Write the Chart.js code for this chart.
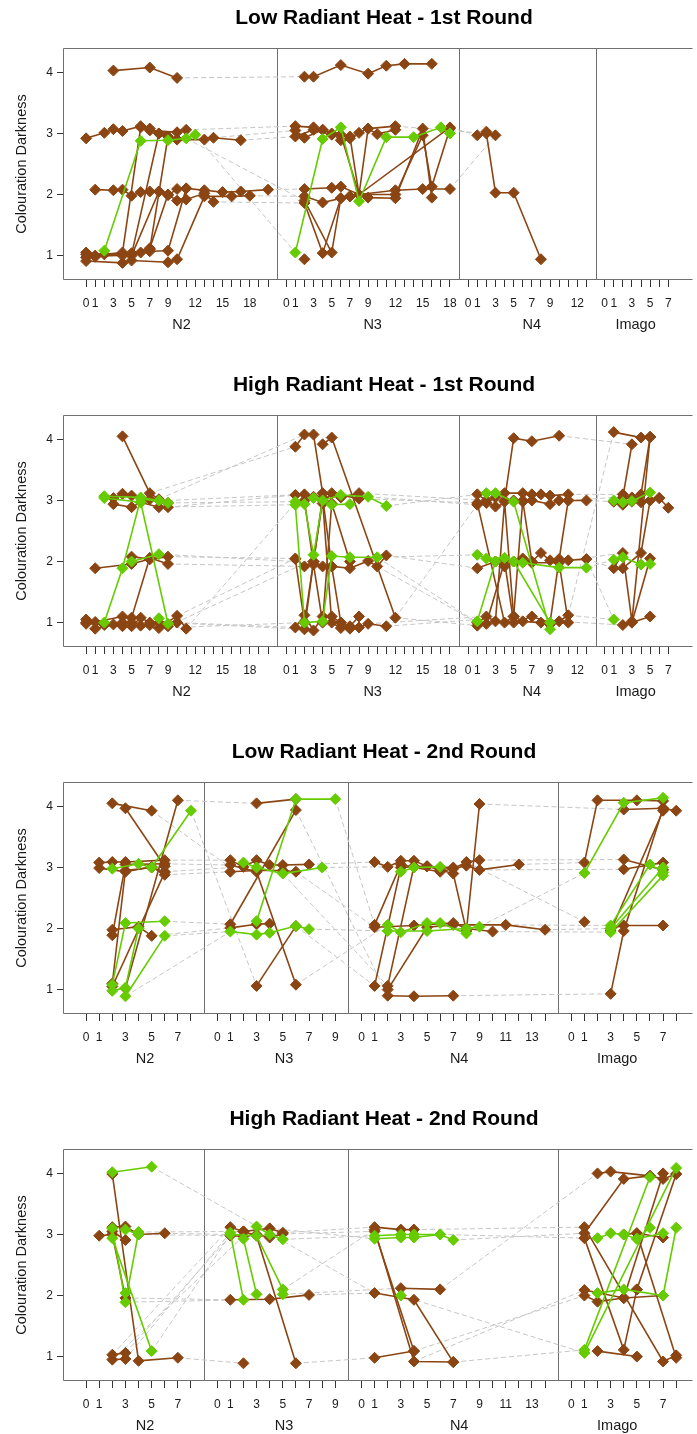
<!DOCTYPE html>
<html><head><meta charset="utf-8">
<script src="https://cdn.jsdelivr.net/npm/chart.js@4.4.0/dist/chart.umd.min.js"></script>
<style>
html,body{margin:0;padding:0;background:#fff;width:697px;height:1434px;overflow:hidden}
.p{position:absolute;left:0;width:697px;height:367px}
</style></head><body>
<div class="p" style="top:0"><canvas id="c0" width="697" height="367"></canvas></div>
<div class="p" style="top:367px"><canvas id="c1" width="697" height="367"></canvas></div>
<div class="p" style="top:734px"><canvas id="c2" width="697" height="367"></canvas></div>
<div class="p" style="top:1101px"><canvas id="c3" width="697" height="367"></canvas></div>
<script>
// ---------- text ----------
const panelTitles = ['Low Radiant Heat - 1st Round','High Radiant Heat - 1st Round','Low Radiant Heat - 2nd Round','High Radiant Heat - 2nd Round'];
const stageNames = ['N2','N3','N4','Imago'];
const yTitle = 'Colouration Darkness';
const yTicks = [1,2,3,4];
// tick ranges (0..n) and labelled ticks for each stage
const tickMaxR1 = [20,18,13,7];
const tickLabelsR1 = [[0,1,3,5,7,9,12,15,18],[0,1,3,5,7,9,12,15,18],[0,1,3,5,7,9,12],[0,1,3,5,7]];
const tickMaxR2 = [8,9,14,8];
const tickLabelsR2 = [[0,1,3,5,7],[0,1,3,5,7,9],[0,1,3,5,7,9,11,13],[0,1,3,5,7]];

// ---------- data: each series = list of [day, darkness] ----------
// Panel 1: Low Radiant Heat - 1st Round
const p1_N2_brown = [
 [[3,4.03],[7,4.08],[10,3.91]],
 [[0,2.92],[2,3.01],[3,3.07],[4,3.04],[6,3.12],[7,3.08],[8,3.0],[11,3.06]],
 [[0,1.05],[2,1.02],[4,1.05],[6,3.1],[7,3.05],[10,3.02]],
 [[0,0.97],[1,0.98],[5,1.02],[8,3.0],[10,2.9],[13,2.9],[14,2.93],[17,2.89]],
 [[1,2.08],[3,2.07],[4,2.08],[5,1.98],[6,2.04],[7,2.05],[8,2.05],[9,1.99],[10,2.09],[11,2.1],[13,2.07],[15,2.04],[17,2.05],[20,2.08]],
 [[0,0.91],[4,0.88],[5,0.92],[9,0.89],[10,0.94],[13,1.97],[16,1.97],[18,1.98]],
 [[1,1.0],[5,1.04],[7,1.12],[9,2.0],[10,1.9],[11,1.92],[13,2.02],[14,1.88]],
 [[0,1.02],[4,1.0],[6,1.05],[7,1.07],[9,1.08],[11,2.1]],
 [[5,1.0],[8,2.05]],
 [[7,1.1],[9,2.95]]
];
const p1_N2_green = [
 [[2,1.08],[6,2.88],[9,2.89],[11,2.92],[12,2.98]]
];
const p1_N3_brown = [
 [[2,3.93],[3,3.93],[6,4.12],[9,3.98],[11,4.11],[13,4.14],[16,4.14]],
 [[1,3.12],[3,3.1],[4,3.06],[5,3.0],[6,2.89],[7,2.92],[8,3.01],[9,3.08],[12,3.12]],
 [[1,3.05],[2,2.93],[4,3.06],[6,2.98],[8,2.0],[18,3.1]],
 [[1,2.95],[3,3.06],[5,2.98],[7,2.95],[8,2.0],[9,3.08],[10,2.99],[12,3.06]],
 [[2,2.09],[5,2.11],[6,2.13],[8,2.0],[12,2.07],[15,2.09],[18,2.09]],
 [[2,1.97],[4,1.87],[7,1.97],[8,2.0],[9,1.95],[12,1.94],[15,3.08],[16,1.95]],
 [[2,1.86],[4,1.04],[6,1.94],[8,2.0],[12,2.0],[15,2.97],[16,2.13],[18,3.08]],
 [[2,1.9],[5,1.05],[6,1.94],[7,1.97]],
 [[2,0.94]]
];
const p1_N3_green = [
 [[1,1.05],[4,2.91],[6,3.1],[8,1.89],[11,2.94],[14,2.94],[17,3.1],[18,3.0]]
];
const p1_N4_brown = [
 [[1,2.97],[2,3.03],[3,2.97]],
 [[2,3.0],[3,2.03],[5,2.03],[8,0.94]]
];
const p1_N4_green = [];
const p1_Imago_brown = [];
const p1_Imago_green = [];
// links between stages: [stage, day, value, stage, day, value]
const p1_links = [
 [0,10,3.91,1,2,3.93],[0,11,3.06,1,1,3.12],[0,14,2.93,1,1,3.05],[0,17,2.89,1,1,2.95],
 [0,12,2.98,1,1,1.05],[0,11,2.92,1,2,1.9],[0,20,2.08,1,2,2.09],[0,18,1.98,1,2,1.97],
 [0,14,1.88,1,2,1.86],[1,18,3.1,2,1,2.97],[1,12,3.12,2,2,3.0],[1,18,2.09,2,3,2.97]
];

// Panel 2: High Radiant Heat - 1st Round
const p2_N2_brown = [
 [[4,4.05],[7,3.12],[8,3.02],[9,2.89]],
 [[3,3.04],[4,3.11],[5,3.08],[7,3.02],[9,2.96]],
 [[3,2.94],[5,2.89],[6,2.97],[8,2.89]],
 [[1,1.89],[5,1.96],[7,2.04],[9,2.08]],
 [[0,1.05],[1,1.01],[4,1.1],[5,1.08],[7,2.06],[9,1.96]],
 [[0,1.0],[2,0.96],[4,0.94],[6,0.95],[8,0.91],[10,1.11],[11,0.9]],
 [[1,0.9],[3,0.97],[5,0.94],[6,1.08],[7,1.0],[9,0.94]],
 [[0,0.98],[4,1.0],[5,1.0],[7,0.96],[8,1.0],[10,1.0]],
 [[5,2.08],[7,2.04]]
];
const p2_N2_green = [
 [[2,1.0],[4,1.89],[6,3.03],[9,2.96]],
 [[2,3.04],[6,2.97],[9,0.98]],
 [[2,3.07],[6,3.05],[8,3.0]],
 [[5,2.0],[8,2.12]],
 [[8,1.07]]
];
const p2_N3_brown = [
 [[1,3.88],[2,4.08],[3,4.08],[4,3.12],[6,3.05],[8,3.12]],
 [[4,3.92],[5,4.03],[12,1.08]],
 [[1,3.09],[2,3.1],[3,3.06],[4,2.95],[5,3.12],[8,3.03]],
 [[1,2.05],[2,1.92],[3,2.0],[4,1.92],[5,1.92],[7,1.89],[9,2.01],[10,1.92],[11,2.1]],
 [[1,0.92],[2,1.12],[3,0.87],[4,1.1],[5,1.1],[6,1.0],[7,0.94],[8,1.1]],
 [[1,2.04],[2,1.0],[4,3.0],[5,1.0],[6,0.91],[8,0.92],[9,0.98],[11,0.94]],
 [[2,0.89],[3,2.0],[4,3.05],[5,1.92],[6,1.0],[7,0.9]],
 [[2,3.0],[3,1.95],[4,1.0],[5,2.95],[7,2.0]]
];
const p2_N3_green = [
 [[1,2.93],[2,1.0],[4,1.02],[5,2.09],[7,2.07],[10,2.07]],
 [[1,2.98],[2,2.94],[3,2.11],[4,3.0],[6,3.09],[9,3.06],[11,2.91]],
 [[3,3.04],[5,2.93],[7,2.94]]
];
const p2_N4_brown = [
 [[4,3.0],[5,4.02],[7,3.97],[10,4.06]],
 [[1,3.1],[2,3.0],[3,3.05],[4,3.12],[6,3.12],[7,3.1],[8,3.1],[9,3.08],[11,3.1]],
 [[1,2.93],[2,2.96],[3,2.9],[5,3.0],[6,2.98],[7,3.0],[9,2.94],[10,3.0],[11,3.0],[13,3.0]],
 [[1,2.96],[4,1.0],[5,1.1],[6,3.0],[7,2.0],[8,2.14],[9,2.02],[11,2.02],[13,2.04]],
 [[1,1.89],[3,2.0],[4,1.92],[5,2.0],[6,2.05],[7,1.98],[10,1.98],[11,1.0]],
 [[1,1.0],[2,1.1],[3,1.02],[4,2.98],[5,1.1],[6,1.02],[8,1.0],[9,0.97],[10,1.02],[11,1.12]],
 [[1,0.95],[2,0.98],[4,2.0],[5,1.0],[7,1.1],[9,1.0],[10,2.04],[11,3.0]]
];
const p2_N4_green = [
 [[2,3.12],[3,3.12],[5,2.98],[9,0.89]],
 [[1,2.11],[2,2.05],[4,2.06],[6,1.98],[10,1.9],[13,1.9]],
 [[1,1.02],[3,2.0]],
 [[5,2.0],[9,1.0]]
];
const p2_Imago_brown = [
 [[1,4.12],[4,4.03],[5,4.04]],
 [[2,3.05],[3,3.92]],
 [[1,2.98],[2,2.93],[3,2.98],[4,3.1],[5,4.04]],
 [[2,3.1],[3,3.05],[4,2.97],[6,3.04],[7,2.88]],
 [[1,1.89],[2,2.14],[3,1.02],[5,4.04]],
 [[2,0.96],[3,1.0],[5,1.1]],
 [[3,1.0],[5,2.05]],
 [[2,1.89],[4,2.14],[5,3.0],[6,3.04]]
];
const p2_Imago_green = [
 [[1,2.03],[2,2.07],[4,1.95],[5,1.96]],
 [[1,3.0],[2,2.97],[3,2.99],[5,3.13]],
 [[1,1.05]]
];
const p2_links = [
 [0,7,3.12,1,1,3.88],[0,8,3.02,1,2,4.08],[0,9,2.96,1,1,2.98],[0,9,2.89,1,1,3.09],[0,8,2.89,1,1,2.93],
 [0,9,3.0,1,2,3.1],[0,9,2.08,1,1,2.05],[0,9,1.96,1,2,1.92],[0,8,2.12,1,1,2.0],[0,10,1.11,1,1,2.05],
 [0,9,0.94,1,1,1.9],[0,11,0.9,1,1,2.96],[0,10,1.0,1,1,0.92],[0,8,0.91,1,2,1.0],[0,9,1.0,1,2,0.89],
 [1,11,2.91,2,1,3.1],[1,9,3.06,2,1,2.93],[1,8,3.12,2,2,3.0],[1,8,3.03,2,1,2.96],[1,11,2.1,2,1,1.89],
 [1,10,2.07,2,1,2.11],[1,10,1.92,2,1,1.0],[1,12,1.08,2,1,0.95],[1,11,0.94,2,1,1.05],[1,9,0.98,2,2,1.1],
 [1,12,1.08,2,1,2.93],[1,10,2.07,2,1,1.0],
 [2,10,4.06,3,3,3.92],[2,13,3.0,3,1,2.98],[2,11,3.1,3,2,3.1],[2,11,3.0,3,1,3.05],[2,13,2.04,3,1,1.89],
 [2,13,1.9,3,1,2.03],[2,11,2.02,3,2,2.14],[2,11,1.12,3,1,1.05],[2,10,1.02,3,2,0.96],[2,11,1.12,3,1,4.12],
 [2,13,2.04,3,1,1.05]
];

// Panel 3: Low Radiant Heat - 2nd Round
const p3_N2_brown = [
 [[2,4.05],[5,3.93]],
 [[3,3.97],[6,3.02]],
 [[1,3.08],[2,3.09],[3,3.09],[6,3.12]],
 [[1,2.99],[3,2.93],[5,3.01],[6,2.88]],
 [[2,1.89],[3,3.05],[6,3.06]],
 [[2,1.98],[4,2.03],[5,1.88]],
 [[2,1.1],[3,2.95],[5,3.0],[6,2.93]],
 [[2,1.05],[6,2.92]],
 [[3,1.02],[7,4.1]]
];
const p3_N2_green = [
 [[2,1.08],[3,2.09],[6,2.12]],
 [[2,0.98],[3,1.03],[4,2.0]],
 [[2,2.98],[4,3.06],[5,3.0],[8,3.93]],
 [[3,0.89],[6,1.88]]
];
const p3_N3_brown = [
 [[3,4.05],[6,4.12]],
 [[1,2.07],[6,3.94]],
 [[1,3.12],[2,3.01],[3,3.12],[4,3.04],[5,3.04],[7,3.05]],
 [[1,3.04],[3,2.93],[6,1.08]],
 [[1,2.93],[3,2.95],[5,2.95],[6,2.93]],
 [[1,2.01],[3,2.07],[4,2.08]],
 [[3,1.06],[6,2.04]]
];
const p3_N3_green = [
 [[1,1.95],[3,1.9],[4,1.93],[6,2.04],[7,1.99]],
 [[3,2.12],[6,4.12],[9,4.12]],
 [[2,3.08],[3,3.0],[5,2.9],[8,3.0]]
];
const p3_N4_brown = [
 [[1,3.09],[2,3.01],[3,3.11],[4,3.11],[5,3.02],[7,2.98],[8,3.09],[9,3.12]],
 [[1,1.06],[3,3.0],[5,3.02],[6,2.96],[7,2.9],[8,1.96],[9,4.04]],
 [[1,2.06],[3,3.05],[4,3.0],[6,2.93],[8,3.03],[9,2.96],[12,3.05]],
 [[2,1.06],[4,3.02],[7,3.0]],
 [[2,0.9],[4,0.89],[7,0.9]],
 [[1,2.02],[4,2.05],[7,2.09],[8,2.0],[10,1.95]],
 [[2,1.0],[5,2.02],[7,2.06],[11,2.06],[14,1.98]]
];
const p3_N4_green = [
 [[2,2.06],[3,1.94],[5,2.09],[6,2.09],[8,1.92]],
 [[2,1.96],[5,1.96],[8,2.0],[9,2.03]],
 [[3,2.93],[4,3.0],[6,3.01]]
];
const p3_Imago_brown = [
 [[1,3.08],[2,4.1],[5,4.1],[7,4.09]],
 [[4,3.95],[7,3.97],[8,3.93]],
 [[3,0.93],[4,1.96],[7,3.97]],
 [[4,3.13],[7,2.96]],
 [[4,2.97],[7,3.08]],
 [[3,2.0],[4,2.05],[7,2.05]],
 [[1,2.11]],
 [[3,1.96],[7,3.93]]
];
const p3_Imago_green = [
 [[1,2.91],[4,4.06],[7,4.14]],
 [[3,2.05],[6,3.05],[7,2.92]],
 [[3,1.94],[7,2.87]],
 [[3,2.0],[7,3.0]]
];
const p3_links = [
 [0,7,4.1,1,3,4.05],[0,6,3.12,1,1,3.12],[0,6,3.06,1,1,3.04],[0,6,2.88,1,1,2.93],[0,6,2.93,1,2,3.01],
 [0,6,2.12,1,1,2.07],[0,6,1.88,1,1,1.95],[0,5,1.88,1,1,2.01],[0,5,3.93,1,1,3.0],[0,8,3.93,1,3,1.06],
 [0,3,0.89,1,1,1.95],
 [1,9,4.12,2,1,2.06],[1,7,3.05,2,1,3.09],[1,8,3.0,2,2,3.01],[1,6,2.93,2,1,2.02],[1,7,1.99,2,2,1.96],
 [1,6,2.04,2,1,1.06],[1,6,1.08,2,2,2.06],[1,5,2.9,2,2,1.06],[1,6,3.94,2,2,0.9],
 [2,9,4.04,3,4,3.95],[2,12,3.05,3,1,3.08],[2,9,3.12,3,4,3.13],[2,9,2.96,3,4,2.97],[2,14,1.98,3,3,2.0],
 [2,11,2.06,3,3,2.05],[2,10,1.95,3,3,1.94],[2,7,0.9,3,3,0.93],[2,8,3.09,3,1,2.11],[2,9,2.03,3,1,2.91]
];

// Panel 4: High Radiant Heat - 2nd Round
const p4_N2_brown = [
 [[2,3.99],[4,0.93],[7,0.98]],
 [[2,3.12],[3,3.13],[4,3.0],[6,3.02]],
 [[1,2.98],[2,3.0],[3,1.96]],
 [[2,1.03],[3,1.06]],
 [[2,0.95],[3,0.96]],
 [[2,3.05],[3,2.91]]
];
const p4_N2_green = [
 [[2,4.02],[5,4.11]],
 [[2,3.1],[3,1.89],[4,3.04]],
 [[2,2.94],[5,1.09]],
 [[3,3.08],[4,3.0]],
 [[3,2.04]]
];
const p4_N3_brown = [
 [[1,1.93],[4,1.94],[7,2.01]],
 [[2,3.05],[3,2.98],[6,0.89]],
 [[1,3.12],[2,3.05],[4,3.1],[5,3.03]],
 [[1,2.98],[2,2.97],[3,3.0],[4,2.95],[5,3.01]],
 [[2,0.89]]
];
const p4_N3_green = [
 [[1,3.03],[2,1.93]],
 [[2,2.93],[3,2.02]],
 [[1,3.0],[3,2.98],[5,2.1]],
 [[3,3.13],[4,3.0],[5,2.92]],
 [[5,2.02]]
];
const p4_N4_brown = [
 [[1,3.12],[3,3.08],[4,3.08]],
 [[1,3.05],[4,1.09]],
 [[1,3.08],[4,0.92],[7,0.91]],
 [[1,2.04],[4,1.93],[7,0.91]],
 [[3,2.12],[6,2.1]],
 [[1,0.98],[4,1.09]]
];
const p4_N4_green = [
 [[1,2.98],[3,3.0],[4,3.0],[6,3.0],[7,2.91]],
 [[1,2.93],[3,2.95],[4,2.95],[6,3.0]],
 [[3,2.0]]
];
const p4_Imago_brown = [
 [[2,4.0],[3,4.03],[6,3.96],[7,3.91],[8,3.99]],
 [[1,3.02],[4,3.91],[6,3.96]],
 [[1,2.94],[4,1.11],[5,2.1]],
 [[1,3.12],[7,0.92],[8,1.02]],
 [[1,2.09],[4,1.96],[7,2.0]],
 [[1,2.0],[2,1.9],[4,1.96]],
 [[2,1.09],[5,1.0]],
 [[4,1.96],[7,4.0]],
 [[5,3.02],[8,0.98]],
 [[4,3.0],[5,3.02],[7,2.95]],
 [[5,2.1],[8,3.99]]
];
const p4_Imago_green = [
 [[1,1.11],[6,3.94]],
 [[1,1.06],[8,4.09]],
 [[2,2.94],[3,3.02],[4,3.0],[5,2.93],[7,3.02]],
 [[2,2.04],[4,2.1],[7,2.0],[8,3.11]],
 [[5,2.93],[6,3.11]]
];
const p4_links = [
 [0,3,1.06,1,1,2.98],[0,3,0.96,1,1,3.03],[0,2,1.03,1,1,3.12],[0,2,0.95,1,2,2.97],[0,6,3.02,1,1,3.0],
 [0,4,3.04,1,2,3.05],[0,4,3.0,1,1,2.98],[0,7,0.98,1,2,0.89],[0,3,1.96,1,1,1.93],[0,3,1.89,1,2,1.93],
 [0,5,1.09,1,1,3.0],[0,5,4.11,2,1,2.04],
 [1,5,3.03,2,1,3.12],[1,5,3.01,2,1,3.05],[1,5,2.92,2,1,2.98],[1,4,3.1,2,1,2.93],[1,7,2.01,2,1,2.04],
 [1,6,0.89,2,1,0.98],[1,5,2.1,2,1,3.08],[1,5,2.02,2,3,2.12],
 [2,7,2.91,3,1,3.02],[2,6,3.0,3,1,2.94],[2,4,3.08,3,1,3.12],[2,6,2.1,3,2,4.0],[2,7,0.91,3,1,1.11],
 [2,4,1.09,3,1,2.0],[2,4,0.92,3,1,2.09],[2,3,2.0,3,1,1.06]
];

// ---------- layout (positions on the shared day axis) ----------
const layoutR1 = {offsets:[0,22,42,57], seps:[21,41,56], stagePos:[10.5,9.5,7,3.4], min:-2.54, max:66.44, tickMax:tickMaxR1, tickLabels:tickLabelsR1};
const layoutR2 = {offsets:[0,10,21,37], seps:[9,20,36], stagePos:[4.5,5.1,7.45,3.5], min:-1.76, max:46.09, tickMax:tickMaxR2, tickLabels:tickLabelsR2};

const panels = [
 {layout:layoutR1, brown:[p1_N2_brown,p1_N3_brown,p1_N4_brown,p1_Imago_brown], green:[p1_N2_green,p1_N3_green,p1_N4_green,p1_Imago_green], links:p1_links},
 {layout:layoutR1, brown:[p2_N2_brown,p2_N3_brown,p2_N4_brown,p2_Imago_brown], green:[p2_N2_green,p2_N3_green,p2_N4_green,p2_Imago_green], links:p2_links},
 {layout:layoutR2, brown:[p3_N2_brown,p3_N3_brown,p3_N4_brown,p3_Imago_brown], green:[p3_N2_green,p3_N3_green,p3_N4_green,p3_Imago_green], links:p3_links},
 {layout:layoutR2, brown:[p4_N2_brown,p4_N3_brown,p4_N4_brown,p4_Imago_brown], green:[p4_N2_green,p4_N3_green,p4_N4_green,p4_Imago_green], links:p4_links}
];

const BROWN = '#8B4513', GREEN = '#66CC00', DASH = '#c6c6c6';
const FONT = '"Liberation Sans", Arial, Helvetica, sans-serif';

const decoPlugin = {
  id: 'deco',
  beforeDatasetsDraw(chart, args, opts) {
    const {ctx, chartArea: a} = chart;
    const x = chart.scales.x;
    ctx.save();
    ctx.strokeStyle = '#6f6f6f';
    ctx.lineWidth = 1;
    ctx.beginPath();
    ctx.moveTo(a.right + 2, Math.round(a.top) + 0.5);
    ctx.lineTo(Math.round(a.left) + 0.5, Math.round(a.top) + 0.5);
    ctx.lineTo(Math.round(a.left) + 0.5, Math.round(a.bottom) - 0.5);
    ctx.lineTo(a.right + 2, Math.round(a.bottom) - 0.5);
    opts.seps.forEach(s => {
      const px = Math.round(x.getPixelForValue(s)) + 0.5;
      ctx.moveTo(px, a.top);
      ctx.lineTo(px, a.bottom);
    });
    ctx.stroke();
    ctx.restore();
  },
  afterDraw(chart, args, opts) {
    const {ctx, chartArea: a} = chart;
    const x = chart.scales.x;
    ctx.save();
    ctx.fillStyle = '#000';
    ctx.textAlign = 'center';
    ctx.textBaseline = 'middle';
    ctx.font = 'bold 21px ' + FONT;
    ctx.fillText(opts.title, 384, 18);
    ctx.fillStyle = '#1a1a1a';
    ctx.font = '14.5px ' + FONT;
    stageNames.forEach((n, i) => {
      ctx.fillText(n, x.getPixelForValue(opts.offsets[i] + opts.stagePos[i]), 325);
    });
    ctx.translate(22, (a.top + a.bottom) / 2);
    ctx.rotate(-Math.PI / 2);
    ctx.fillText(yTitle, 0, 0);
    ctx.restore();
  }
};

panels.forEach((p, pi) => {
  const L = p.layout;
  const datasets = [];
  const toPts = (stage, s) => s.map(([d, v]) => ({x: L.offsets[stage] + d, y: v}));
  p.links.forEach(l => {
    datasets.push({data: [{x: L.offsets[l[0]] + l[1], y: l[2]}, {x: L.offsets[l[3]] + l[4], y: l[5]}],
      borderColor: DASH, borderWidth: 1, borderDash: [5, 3], pointRadius: 0, order: 3});
  });
  const addSeries = (list, color, order) => {
    list.forEach((stageList, si) => stageList.forEach(s => {
      datasets.push({data: toPts(si, s), borderColor: color, backgroundColor: color, borderWidth: 1.6,
        pointStyle: 'rectRot', pointRadius: 5.5, pointBorderWidth: 1, pointBorderColor: color,
        pointBackgroundColor: color, order: order});
    }));
  };
  addSeries(p.brown, BROWN, 2);
  addSeries(p.green, GREEN, 1);

  const tickVals = [];
  L.tickMax.forEach((m, si) => { for (let d = 0; d <= m; d++) tickVals.push(L.offsets[si] + d); });
  const labelFor = v => {
    for (let si = 3; si >= 0; si--) {
      if (v >= L.offsets[si]) { const d = v - L.offsets[si]; return L.tickLabels[si].includes(d) ? String(d) : ''; }
    }
    return '';
  };

  new Chart(document.getElementById('c' + pi), {
    type: 'line',
    data: {datasets},
    options: {
      responsive: false, animation: false,
      layout: {padding: {top: 48, right: 0, left: 0, bottom: 0}},
      elements: {line: {tension: 0}},
      plugins: {legend: {display: false}, tooltip: {enabled: false},
        deco: {title: panelTitles[pi], seps: L.seps, offsets: L.offsets, stagePos: L.stagePos}},
      scales: {
        x: {type: 'linear', min: L.min, max: L.max,
          afterBuildTicks: ax => { ax.ticks = tickVals.map(v => ({value: v})); },
          afterFit: sc => { sc.height = 87; },
          ticks: {autoSkip: false, maxRotation: 0, minRotation: 0, padding: 9, color: '#1a1a1a',
            font: {family: FONT, size: 12}, callback: v => labelFor(v)},
          grid: {drawOnChartArea: false, drawTicks: true, tickLength: 7, tickColor: '#333', tickWidth: 1},
          border: {display: false}},
        y: {type: 'linear', min: 0.60, max: 4.40,
          afterBuildTicks: ax => { ax.ticks = yTicks.map(v => ({value: v})); },
          afterFit: sc => { sc.width = 63; },
          ticks: {padding: 4, color: '#1a1a1a', font: {family: FONT, size: 12}, callback: v => String(v)},
          grid: {drawOnChartArea: false, drawTicks: true, tickLength: 6, tickColor: '#333', tickWidth: 1},
          border: {display: false}}
      }
    },
    plugins: [decoPlugin]
  });
});
</script>
</body></html>
